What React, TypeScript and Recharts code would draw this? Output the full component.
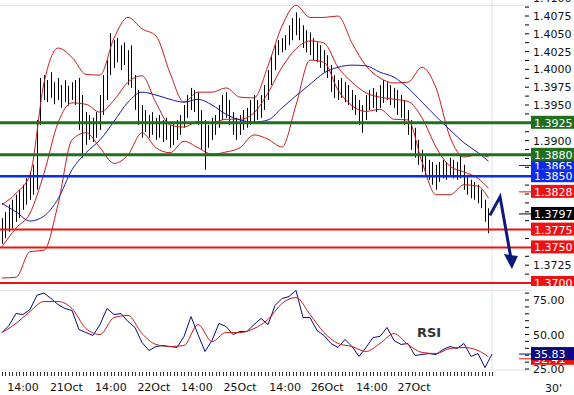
import React from 'react'
import { ComposedChart, Bar, Line, XAxis, YAxis, ReferenceLine } from 'recharts'

// 30-minute bars (high / low)
const highs = [
  1.3791, 1.38, 1.381, 1.3817, 1.3824, 1.3831, 1.3838, 1.3847, 1.3856, 1.3866,
  1.3929, 1.3988, 1.3992, 1.3985, 1.3996, 1.3982, 1.3988, 1.3978, 1.3985, 1.3977,
  1.3982, 1.3985, 1.3988, 1.3964, 1.394, 1.3936, 1.3932, 1.394, 1.3964, 1.3992,
  1.4013, 1.4051, 1.4041, 1.4044, 1.4034, 1.4038, 1.4027, 1.4034, 1.3992, 1.3971,
  1.395, 1.3943, 1.3936, 1.394, 1.3932, 1.3936, 1.3929, 1.3932, 1.3922, 1.3926,
  1.3929, 1.3936, 1.395, 1.3964, 1.3974, 1.3971, 1.3968, 1.3943, 1.3929, 1.3922,
  1.3932, 1.3936, 1.395, 1.3964, 1.3968, 1.3957, 1.394, 1.3932, 1.3936, 1.3943,
  1.3946, 1.3957, 1.3964, 1.3957, 1.3964, 1.3978, 1.3999, 1.402, 1.4034, 1.4041,
  1.4044, 1.4048, 1.4062, 1.4072, 1.408, 1.4072, 1.4062, 1.4055, 1.4052, 1.4044,
  1.4038, 1.4034, 1.4027, 1.402, 1.4006, 1.3992, 1.3985, 1.3988, 1.3982, 1.3978,
  1.3971, 1.3964, 1.3957, 1.395, 1.3964, 1.3971, 1.3974, 1.3968, 1.3978, 1.3985,
  1.3982, 1.3978, 1.3974, 1.3971, 1.3964, 1.3957, 1.3943, 1.3929, 1.3918, 1.3901,
  1.3887, 1.388, 1.3873, 1.387, 1.3866, 1.387, 1.3873, 1.387, 1.3876, 1.3873,
  1.387, 1.388, 1.3866, 1.3852, 1.3845, 1.3842, 1.3838, 1.3831, 1.3817, 1.3805,
]
const lows = [
  1.3755, 1.3763, 1.3772, 1.3777, 1.3786, 1.3791, 1.3803, 1.381, 1.3817, 1.3824,
  1.3831, 1.3922, 1.3957, 1.3954, 1.396, 1.3951, 1.3957, 1.3946, 1.3954, 1.3949,
  1.3957, 1.395, 1.3915, 1.3876, 1.3894, 1.3901, 1.3898, 1.3904, 1.3915, 1.3936,
  1.3957, 1.3992, 1.4002, 1.401, 1.3999, 1.4006, 1.3978, 1.3974, 1.3943, 1.3922,
  1.3904, 1.3912, 1.3904, 1.3908, 1.3901, 1.3904, 1.3898, 1.3901, 1.389, 1.3894,
  1.3901, 1.3908, 1.3918, 1.3932, 1.3943, 1.394, 1.3922, 1.3887, 1.3859, 1.389,
  1.3901, 1.3908, 1.3918, 1.3929, 1.3932, 1.3922, 1.3908, 1.3901, 1.3908, 1.3915,
  1.3918, 1.3922, 1.3926, 1.3929, 1.3932, 1.3943, 1.3957, 1.3978, 1.3999, 1.402,
  1.4024, 1.4027, 1.4034, 1.4041, 1.4048, 1.4041, 1.403, 1.4024, 1.402, 1.4013,
  1.401, 1.4002, 1.3996, 1.3988, 1.3968, 1.396, 1.3957, 1.396, 1.3954, 1.395,
  1.3943, 1.3936, 1.3922, 1.3911, 1.3929, 1.3943, 1.3946, 1.394, 1.3946, 1.3953,
  1.3957, 1.395, 1.3946, 1.3936, 1.3932, 1.3922, 1.3908, 1.3887, 1.3876, 1.3866,
  1.3856, 1.3852, 1.3845, 1.3838, 1.3831, 1.3842, 1.3847, 1.3845, 1.385, 1.3847,
  1.3845, 1.3847, 1.3831, 1.3824, 1.3819, 1.3817, 1.3812, 1.3805, 1.3786, 1.377,
]

// indicator lines, read every 4th bar
const bandIdx = [
  0, 4, 8, 12, 16, 20, 24, 28, 32, 36, 40, 44, 48, 52, 56, 60, 64, 68,
  72, 76, 80, 84, 88, 92, 96, 100, 104, 108, 112, 116, 120, 124, 128, 132, 136, 139,
]
const upperBand = [
  1.381, 1.3826, 1.3852, 1.3981, 1.403, 1.4017, 1.3993, 1.3992, 1.4044, 1.4073, 1.4057, 1.4047,
  1.3995, 1.3954, 1.3968, 1.3968, 1.3974, 1.3961, 1.396, 1.4005, 1.4061, 1.409, 1.4073, 1.4073,
  1.4075, 1.4037, 1.4005, 1.3988, 1.3981, 1.3982, 1.4003, 1.3974, 1.3905, 1.3877, 1.388, 1.3877,
]
const midBand = [
  1.3751, 1.3777, 1.3798, 1.3854, 1.3925, 1.3953, 1.3951, 1.394, 1.3957, 1.3982, 1.3991, 1.3953,
  1.3922, 1.3919, 1.3927, 1.3925, 1.393, 1.393, 1.3939, 1.3967, 1.4003, 1.4029, 1.404, 1.4037,
  1.4003, 1.3982, 1.3967, 1.3961, 1.3958, 1.3955, 1.3932, 1.3891, 1.3864, 1.3856, 1.3847, 1.3833,
]
const lowerBand = [
  1.3707, 1.3708, 1.3744, 1.3746, 1.381, 1.3901, 1.3911, 1.389, 1.3868, 1.388, 1.3911, 1.389,
  1.3883, 1.3899, 1.389, 1.3881, 1.3884, 1.389, 1.3908, 1.3902, 1.3891, 1.395, 1.4013, 1.401,
  1.3971, 1.3949, 1.3941, 1.3944, 1.393, 1.3929, 1.387, 1.3824, 1.3824, 1.3838, 1.3836, 1.3819,
]
const slowMa = [
  1.3812, 1.38, 1.3787, 1.3794, 1.3818, 1.3859, 1.3883, 1.3901, 1.3927, 1.3954, 1.3968, 1.3964,
  1.3958, 1.3954, 1.3958, 1.395, 1.3937, 1.3929, 1.3926, 1.3929, 1.3946, 1.3963, 1.3979, 1.3995,
  1.4003, 1.4006, 1.4005, 1.3996, 1.3989, 1.3974, 1.3954, 1.3934, 1.3915, 1.3897, 1.3883, 1.3871,
]

// RSI, read every 2nd bar; signal every 4th bar
const rsiValues = [
  51.4, 56.5, 65.2, 64.5, 68.1, 78.5, 80.0, 76.1, 71.7, 68.8,
  67.4, 53.6, 51.4, 49.3, 57.2, 68.8, 64.5, 65.2, 59.4, 55.1,
  44.2, 38.4, 41.3, 42.0, 41.3, 40.6, 48.6, 63.0, 50.0, 37.7,
  45.7, 58.0, 55.8, 50.0, 52.2, 52.2, 57.2, 61.6, 57.2, 71.0,
  76.1, 77.5, 82.0, 62.3, 62.3, 52.9, 49.3, 43.5, 40.6, 46.4,
  41.3, 34.1, 40.6, 47.8, 48.6, 55.1, 45.7, 42.8, 43.5, 34.8,
  35.5, 36.2, 35.5, 39.1, 41.3, 39.9, 43.5, 34.1, 36.2, 26.0,
  35.8,
]
const rsiSignal = [
  51.4, 58.0, 66.7, 73.9, 73.9, 68.8, 54.3, 50.0, 62.3, 63.8, 50.7, 42.8,
  41.3, 42.0, 57.2, 44.9, 51.4, 51.4, 54.3, 60.9, 72.5, 76.8, 64.5, 51.4,
  43.5, 41.3, 37.7, 43.5, 50.7, 42.8, 37.0, 36.2, 39.9, 40.6, 38.4, 33.8,
]

// forecast arrow
const arrowIdx = [139.4, 142.3, 145.4]
const arrowPrice = [1.3795, 1.3821, 1.3735]

// support / resistance levels (full width) and marked prices (short ticks)
const levelLines = [1.3925, 1.388, 1.385, 1.3775, 1.375, 1.37]
const levelTags = [1.3865, 1.3925, 1.388, 1.385, 1.3828, 1.3797, 1.3775, 1.375, 1.37]
const levelTagColors = ['#0a2be8', '#1f6f1f', '#1f6f1f', '#0a2be8', '#ee1111', '#000000', '#ee1111', '#ee1111', '#ee1111']
const shortTags = [1.3865, 1.3828, 1.3797]

const priceLabels = [1.3725, 1.39, 1.395, 1.3975, 1.4, 1.4025, 1.405, 1.4075, 1.41]
const rsiLabels = [25, 50, 75]
const rsiTags = [32.41, 35.83]
const rsiTagColors = ['#ee1111', '#0a0a80']

const xLabels = ['14:00', '21Oct', '14:00', '22Oct', '14:00', '25Oct', '14:00', '26Oct', '14:00', '27Oct']
const xLabelIdx = [6, 18.4, 31.1, 43.4, 55.7, 68, 80.9, 92.9, 105.7, 117.7]

const FONT = '"DejaVu Sans", Verdana, sans-serif'
const RED = '#c81c1c'
const BLUE = '#1c1caa'
const NAVY = '#0d1a78'
const GRID = '#dde3ea'
const X_DOMAIN: [number, number] = [-0.571, 151.14]

const near = (a: number, b: number) => Math.abs(a - b) < 1e-6

const bars = highs.map((h, i) => ({ i, range: [lows[i], h] }))
const band = (vals: number[]) => vals.map((v, k) => ({ i: bandIdx[k], v }))
const rsiData = rsiValues.map((v, k) => ({ i: k * 2, v }))
const arrowData = arrowIdx.map((i, k) => ({ i, v: arrowPrice[k] }))

const priceMinor = Array.from({ length: 33 }, (_, k) => +(1.37 + k * 0.00125).toFixed(5))
const priceTicks = [...priceMinor.filter((t) => !levelTags.some((l) => near(l, t))), ...levelTags]
const rsiMinor = Array.from({ length: 12 }, (_, k) => 25 + k * 5)
const rsiTicks = [...rsiMinor, ...rsiTags]
const xMinor = Array.from({ length: 141 }, (_, k) => k)
const xTicks = [...xMinor, ...xLabelIdx]

function tag(x: number, y: number, text: string, color: string, short: boolean) {
  return (
    <g>
      {short && <line x1={x - 12} x2={x} y1={y} y2={y} stroke={color} strokeWidth={1} />}
      <rect x={x} y={y - 7} width={43} height={13} fill={color} />
      <text x={x + 3} y={y + 4} fill="#fff" fontSize={11} fontFamily={FONT}>
        {text}
      </text>
    </g>
  )
}

function PriceTick(props: any) {
  const { x, y, payload } = props
  const v = payload.value as number
  const li = levelTags.findIndex((l) => near(l, v))
  if (li >= 0) {
    return tag(x, y, v.toFixed(4), levelTagColors[li], shortTags.some((s) => near(s, v)))
  }
  const label = priceLabels.some((p) => near(p, v))
  return (
    <g>
      <line x1={x - 6} x2={x - 2} y1={y} y2={y} stroke="#000" />
      {label && (
        <text x={x + 2} y={y + 4} fill="#111" fontSize={11} fontFamily={FONT}>
          {v.toFixed(4)}
        </text>
      )}
    </g>
  )
}

function RsiTick(props: any) {
  const { x, y, payload } = props
  const v = payload.value as number
  const ti = rsiTags.findIndex((t) => near(t, v))
  if (ti >= 0) return tag(x, y, v.toFixed(2), rsiTagColors[ti], true)
  const label = rsiLabels.includes(v)
  return (
    <g>
      <line x1={x - 6} x2={x - 2} y1={y} y2={y} stroke="#000" />
      {label && (
        <text x={x + 2} y={y + 4} fill="#111" fontSize={11} fontFamily={FONT}>
          {v.toFixed(2)}
        </text>
      )}
    </g>
  )
}

function TimeTick(props: any) {
  const { x, y, index } = props
  // ticks after the minor ones are the text labels
  if (index >= xMinor.length) {
    return (
      <text x={x} y={y + 21} textAnchor="middle" fill="#111" fontSize={11} fontFamily={FONT}>
        {xLabels[index - xMinor.length]}
      </text>
    )
  }
  const px = Math.round(x) + 0.5
  return <line x1={px} x2={px} y1={y + 2} y2={y + 6} stroke="#333" />
}

function OhlcBar(props: any) {
  const { x, y, width, height } = props
  const cx = Math.round(x + width / 2) + 0.5
  return <line x1={cx} x2={cx} y1={y} y2={y + height} stroke="#000" strokeWidth={1} />
}

function ArrowHead(props: any) {
  const { cx, cy, index } = props
  if (index !== arrowIdx.length - 1) return <g key={`ah${index}`} />
  return (
    <polygon
      key="head"
      points={`${cx - 7},${cy - 4} ${cx + 7},${cy - 2} ${cx + 1},${cy + 11}`}
      fill={NAVY}
    />
  )
}

export default function App() {
  const lineProps = { dataKey: 'v', dot: false, activeDot: false, isAnimationActive: false, strokeWidth: 1 }
  return (
    <div
      style={{
        position: 'relative',
        width: 574,
        height: 395,
        overflow: 'hidden',
        background: '#fff',
        fontFamily: FONT,
      }}
    >
      <style>{'body{margin:0}'}</style>
      <div style={{ position: 'absolute', left: 0, top: -4 }}>
        <ComposedChart width={574} height={290} data={bars} margin={{ top: 0, right: 0, bottom: 0, left: 0 }}>
          <XAxis dataKey="i" type="number" domain={X_DOMAIN} allowDataOverflow hide />
          <YAxis
            orientation="right"
            type="number"
            domain={[1.369579, 1.410309]}
            allowDataOverflow
            width={43}
            ticks={priceTicks}
            interval={0}
            tick={PriceTick}
            tickLine={false}
            axisLine={false}
            tickSize={0}
            tickMargin={0}
          />
          <ReferenceLine y={1.409} stroke={GRID} />
          <ReferenceLine x={140} stroke={GRID} />
          <Bar dataKey="range" barSize={2} shape={OhlcBar} isAnimationActive={false} />
          <Line {...lineProps} data={band(upperBand)} type="monotone" stroke={RED} />
          <Line {...lineProps} data={band(midBand)} type="monotone" stroke={RED} />
          <Line {...lineProps} data={band(lowerBand)} type="monotone" stroke={RED} />
          <Line {...lineProps} data={band(slowMa)} type="monotone" stroke={BLUE} />
          {levelLines.map((l) => {
            const c = levelTagColors[levelTags.findIndex((t) => near(t, l))]
            const w = c === '#1f6f1f' ? 3 : c === '#0a2be8' ? 2.5 : 2
            return <ReferenceLine key={l} y={l} stroke={c} strokeWidth={w} />
          })}
          <Line
            data={arrowData}
            dataKey="v"
            type="linear"
            stroke={NAVY}
            strokeWidth={3}
            dot={ArrowHead}
            activeDot={false}
            isAnimationActive={false}
          />
        </ComposedChart>
      </div>
      <div style={{ position: 'absolute', left: 0, top: 286 }}>
        <ComposedChart width={574} height={109} data={rsiData} margin={{ top: 4, right: 0, bottom: 0, left: 0 }}>
          <XAxis
            dataKey="i"
            type="number"
            domain={X_DOMAIN}
            allowDataOverflow
            height={25}
            ticks={xTicks}
            interval={0}
            tick={TimeTick}
            tickLine={false}
            axisLine={{ stroke: GRID }}
            tickSize={0}
            tickMargin={0}
          />
          <YAxis
            orientation="right"
            type="number"
            domain={[24.28, 82.25]}
            allowDataOverflow
            width={43}
            ticks={rsiTicks}
            interval={0}
            tick={RsiTick}
            tickLine={false}
            axisLine={false}
            tickSize={0}
            tickMargin={0}
          />
          <ReferenceLine y={82} stroke={GRID} />
          <ReferenceLine x={140} stroke={GRID} />
          <Line {...lineProps} type="linear" stroke="#0a0a80" />
          <Line {...lineProps} data={rsiSignal.map((v, k) => ({ i: bandIdx[k], v }))} type="monotone" stroke={RED} />
        </ComposedChart>
      </div>
      <div style={{ position: 'absolute', left: 417, top: 325, fontSize: 13, fontWeight: 'bold', color: '#333' }}>
        RSI
      </div>
      <div style={{ position: 'absolute', left: 545, top: 382, fontSize: 11, color: '#111' }}>30'</div>
    </div>
  )
}
